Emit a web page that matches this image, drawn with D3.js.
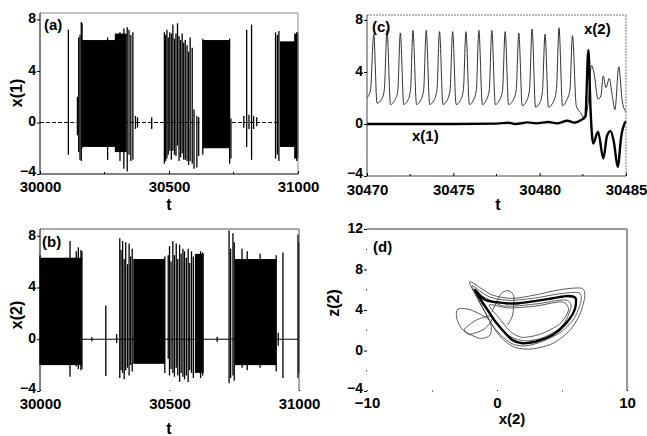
<!DOCTYPE html>
<html>
<head>
<meta charset="utf-8">
<script src="https://cdn.jsdelivr.net/npm/d3@7"></script>
<style>
  body { margin: 0; background: #fff; }
  text { font-family: "Liberation Sans", Arial, sans-serif; font-weight: bold; fill: #000; }
</style>
</head>
<body>
<svg id="chart" width="647" height="436"></svg>
<script>
// ---- data ----
// (a) x(1) vs t : solid bursts [t0, t1, hi, lo] and single spikes [t, hi, lo]
let a_bursts = [
    [30161, 30330, 6.4, -1.9],
    [30290, 30336, 6.9, -2.3],
    [30631, 30734, 6.4, -2.0],
    [30930, 31000, 6.3, -1.9],
    [30985, 31000, 6.9, -2.8]
];
let a_spikes = [
    [30110, 7.2, -2.5], [30145, 2.0, -1.0], [30150, 6.6, -2.3], [30155, 6.8, -2.9],
    [30160, 7.8, -3.0], [30163, 7.7, -2.0], [30262, 6.6, -2.9], [30310, 7.0, -3.0],
    [30325, 7.3, -3.6], [30338, 7.4, -3.8], [30345, 7.2, -2.5], [30352, 6.8, -3.0],
    [30360, 7.0, -2.9], [30370, 0.5, -0.5], [30378, 0.4, -0.4], [30433, 0.4, -0.5],
    [30482, 7.0, -3.2], [30487, 6.8, -3.0], [30492, 7.2, -2.8], [30497, 6.6, -2.5],
    [30503, 7.0, -2.2], [30509, 6.9, -2.9], [30515, 7.6, -2.2], [30521, 6.5, -2.5],
    [30527, 6.9, -2.6], [30533, 7.7, -1.8], [30539, 6.7, -3.0], [30545, 6.4, -2.7],
    [30551, 6.9, -2.4], [30557, 6.2, -2.9], [30563, 6.4, -2.9], [30570, 6.0, -3.0],
    [30576, 5.5, -3.3], [30582, 6.6, -3.0], [30590, 5.8, -3.2], [30597, 1.0, -3.6],
    [30608, 0.5, -3.5], [30615, 0.4, -2.6], [30631, 6.5, -2.5], [30735, 6.5, -3.2],
    [30740, 0.3, -2.8], [30790, 0.5, -0.4], [30801, 7.2, -1.9], [30810, 0.6, -0.5],
    [30820, 7.6, -2.9], [30828, 0.5, -0.5], [30840, 0.4, -0.3], [30913, 7.0, -2.8],
    [30920, 6.8, -2.5], [30926, 7.1, -3.0], [30995, 7.0, -3.0], [30999, 7.0, -2.8]
];

// (b) x(2) vs t
let b_bursts = [
    [30000, 30161, 6.3, -2.0],
    [30360, 30482, 6.2, -1.9],
    [30598, 30632, 6.6, -2.6],
    [30752, 30912, 6.2, -2.0]
];
let b_spikes = [
    [30000, 6.5, -2.0], [30116, 7.6, -2.9], [30140, 6.8, -2.1], [30148, 7.1, -2.3],
    [30158, 6.9, -2.4], [30162, 6.8, -2.3], [30200, 0.15, -0.15], [30254, 2.6, -2.85],
    [30296, 0.4, -0.3], [30308, 7.8, -3.0], [30313, 6.9, -2.4], [30319, 7.6, -2.6],
    [30325, 6.2, -3.1], [30331, 7.5, -2.4], [30338, 5.8, -2.2], [30344, 7.4, -2.8],
    [30350, 6.4, -2.0], [30356, 7.0, -2.5], [30482, 6.4, -2.6], [30495, 6.5, -1.5],
    [30500, 7.2, -2.8], [30506, 6.0, -2.3], [30513, 7.6, -2.6], [30519, 6.5, -2.9],
    [30526, 7.4, -2.2], [30532, 6.2, -2.8], [30539, 7.3, -3.3], [30545, 6.6, -2.6],
    [30552, 7.0, -2.9], [30558, 6.8, -3.1], [30565, 6.3, -2.8], [30572, 7.0, -3.3],
    [30578, 5.9, -2.4], [30585, 6.8, -2.6], [30592, 6.4, -3.0], [30620, 6.8, -3.0],
    [30628, 6.7, -2.8], [30684, 0.2, -0.2], [30730, 8.4, -3.4], [30736, 7.0, -3.0],
    [30745, 8.2, -2.8], [30750, 7.5, -3.2], [30780, 7.0, -2.2], [30800, 6.8, -2.4],
    [30850, 6.6, -2.2], [30912, 6.5, -2.5], [30920, 0.5, -0.5], [30938, 6.7, -3.0],
    [30996, 8.1, -3.0], [30999, 7.5, -2.6]
];

// (c) zoom 30470..30485 : [t, value]
let c_x2 = [
    [30470.0, 2.0], [30470.2, 2.6], [30470.39, 6.9], [30470.58, 1.6], [30470.85, 1.9],
    [30471.0, 2.6], [30471.16, 7.2], [30471.36, 1.5], [30471.6, 1.8], [30471.78, 2.5],
    [30471.93, 7.0], [30472.13, 1.5], [30472.36, 1.8], [30472.52, 2.6], [30472.66, 7.2],
    [30472.87, 1.5], [30473.1, 1.8], [30473.28, 2.6], [30473.43, 7.2], [30473.63, 1.5],
    [30473.87, 1.8], [30474.05, 2.6], [30474.2, 7.1], [30474.4, 1.5], [30474.63, 1.8],
    [30474.81, 2.6], [30474.96, 7.1], [30475.16, 1.5], [30475.4, 1.8], [30475.58, 2.6],
    [30475.73, 7.1], [30475.93, 1.5], [30476.15, 1.8], [30476.33, 2.6], [30476.48, 7.2],
    [30476.68, 1.5], [30476.9, 1.8], [30477.08, 2.6], [30477.23, 7.2], [30477.43, 1.5],
    [30477.66, 1.8], [30477.85, 2.6], [30478.0, 7.1], [30478.2, 1.5], [30478.45, 1.8],
    [30478.64, 2.6], [30478.79, 7.0], [30478.99, 1.4], [30479.22, 1.7], [30479.41, 2.6],
    [30479.56, 7.3], [30479.76, 1.3], [30480.0, 1.6], [30480.16, 2.5], [30480.31, 6.9],
    [30480.51, 1.3], [30480.75, 1.6], [30480.97, 2.6], [30481.12, 7.4], [30481.32, 1.4],
    [30481.55, 1.8], [30481.75, 2.6], [30481.9, 6.8], [30482.12, 1.4], [30482.4, 0.8],
    [30482.6, 0.4], [30482.8, 1.5], [30483.0, 4.5], [30483.15, 3.9], [30483.38, 1.9],
    [30483.55, 2.2], [30483.68, 3.7], [30483.84, 2.8], [30484.03, 3.5], [30484.2, 2.2],
    [30484.36, 1.1], [30484.58, 4.4], [30484.78, 1.8], [30485.0, 0.9]
];
let c_x1 = [
    [30470, 0], [30475, 0], [30477.5, 0.03], [30478.2, 0.1], [30478.6, 0.0],
    [30479.3, 0.12], [30479.8, 0.05], [30480.5, 0.15], [30481.0, 0.05], [30481.6, 0.25],
    [30482.0, 0.1], [30482.4, 0.3], [30482.65, 0.6], [30482.82, 5.7], [30482.95, 1.0],
    [30483.1, -1.5], [30483.38, -0.6], [30483.69, -2.65], [30483.9, -0.9], [30484.11, -0.55],
    [30484.3, -1.4], [30484.52, -3.3], [30484.72, -1.0], [30484.94, 0.1], [30485, 0.2]
];

// (d) phase portrait z(2) vs x(2) : loops [x, z]
let d_outer = [[-2.1,6.8],[-0.4,5.5],[1.2,5.15],[3.0,5.5],[4.8,6.0],[6.5,6.15],[6.75,5.3],[6.35,3.5],[5.6,2.0],[4.3,0.7],[2.7,0.15],[1.4,0.3],[0.5,1.05],[-0.15,2.05],[-0.8,3.5],[-1.45,5.0]];
let d_mid = [[-1.9,6.4],[-0.6,5.3],[1.0,4.95],[3.0,5.2],[4.8,5.6],[6.3,5.7],[6.45,4.8],[5.9,3.1],[4.9,1.8],[3.5,0.9],[2.2,0.45],[1.2,0.65],[0.3,1.5],[-0.4,2.6],[-1.0,4.0],[-1.6,5.5]];
let d_main = [[-1.7,6.0],[-0.9,5.0],[0.65,4.67],[1.7,4.67],[3.0,4.9],[4.3,5.16],[5.45,5.39],[6.05,5.16],[5.97,4.01],[5.32,2.7],[4.3,1.55],[3.0,0.89],[1.95,0.72],[1.17,1.05],[0.52,1.88],[-0.13,2.86],[-0.65,3.85],[-1.17,4.84]];
let d_inner = [[-1.3,5.4],[0.5,4.4],[3.0,4.6],[5.2,5.0],[5.7,4.3],[5.0,2.4],[3.6,1.3],[2.2,0.95],[1.0,1.4],[0.0,2.6],[-0.6,3.9]];
let d_inner2 = [[-0.6,4.5],[0.9,4.2],[3.0,4.4],[5.0,4.8],[5.5,4.0],[4.8,2.6],[3.3,1.6],[1.9,1.3],[1.0,1.9],[0.3,3.0]];
let d_ellA = [[-3.0,4.1],[-2.0,4.0],[-0.6,3.0],[-0.5,1.6],[-1.3,1.2],[-2.6,2.0],[-3.1,3.2]];
let d_ellB = [[-0.6,3.4],[-1.6,3.0],[-2.5,2.1],[-2.1,1.6],[-1.0,2.1],[-0.4,3.0]];
let d_arc = [[-0.4,3.8],[0.3,5.6],[0.9,5.9],[1.3,5.3],[1.2,3.5],[0.8,2.5]];

let t_ticks = [30000, 30500, 31000];
let t_minor = [30250, 30750];
let c_ticks = [30470, 30475, 30480, 30485];
let c_minor = [30472.5, 30477.5, 30482.5];
let v_ticks = [-4, 0, 4, 8];
let d_xticks = [-10, 0, 10];
let d_xminor = [-5, 5];
let d_yticks = [-4, 0, 4, 8, 12];
let d_yminor = [-2, 2, 6, 10];

let svg = d3.select("#chart");
let tickFont = "15px";
let yTickFont = "14px";

function makePanel(p){
    let x = d3.scaleLinear().domain(p.xdom).range([p.left, p.right]);
    let y = d3.scaleLinear().domain(p.ydom).range([p.bottom, p.top]);
    let g = svg.append("g");
    return {g: g, x: x, y: y, p: p};
}

function drawBurstPanel(P, bursts, spikes, dashed){
    let g = P.g, x = P.x, y = P.y;
    g.append("line")
        .attr("x1", x(x.domain()[0])).attr("x2", x(x.domain()[1]))
        .attr("y1", y(0)).attr("y2", y(0))
        .attr("stroke", "#000").attr("stroke-width", 1)
        .attr("stroke-dasharray", dashed ? "4,2" : null);
    g.selectAll(".burst").data(bursts).enter().append("rect")
        .attr("x", d => x(d[0]))
        .attr("width", d => x(d[1]) - x(d[0]))
        .attr("y", d => y(d[2]))
        .attr("height", d => y(d[3]) - y(d[2]))
        .attr("fill", "#000");
    g.selectAll(".spike").data(spikes).enter().append("line")
        .attr("x1", d => x(d[0])).attr("x2", d => x(d[0]))
        .attr("y1", d => y(d[1])).attr("y2", d => y(d[2]))
        .attr("stroke", "#000").attr("stroke-width", 1.3);
}

function leftAxis(P, ticks, minor){
    P.g.append("g")
        .attr("transform", "translate(" + P.p.left + ",0)")
        .call(d3.axisLeft(P.y).tickValues(ticks).tickSize(3).tickPadding(1))
        .call(a => a.select(".domain").remove())
        .call(a => a.selectAll("text").style("font-size", yTickFont)
            .attr("dy", (d, i) => i === 0 ? "0.08em" : "0.25em"));
    if(minor){
        P.g.selectAll(".ymin").data(minor).enter().append("line")
            .attr("x1", P.p.left - 1).attr("x2", P.p.left)
            .attr("y1", d => P.y(d)).attr("y2", d => P.y(d))
            .attr("stroke", "#000");
    }
}

function bottomAxis(P, ticks, minor, pad, inner){
    P.g.append("g")
        .attr("transform", "translate(0," + P.p.bottom + ")")
        .call(d3.axisBottom(P.x).tickValues(ticks).tickFormat(d3.format("d"))
            .tickSizeInner(inner).tickSizeOuter(0).tickPadding(pad))
        .call(a => a.select(".domain").remove())
        .call(a => a.selectAll("text").style("font-size", tickFont));
    P.g.selectAll(".xmin").data(minor).enter().append("line")
        .attr("x1", d => P.x(d)).attr("x2", d => P.x(d))
        .attr("y1", P.p.bottom).attr("y2", P.p.bottom + inner + 1)
        .attr("stroke", "#000");
}

function frame(P, sides, style){
    let p = P.p;
    let seg = {
        top: [p.left, p.top, p.right, p.top],
        bottom: [p.left, p.bottom, p.right, p.bottom],
        left: [p.left, p.top, p.left, p.bottom],
        right: [p.right, p.top, p.right, p.bottom]
    };
    for(let s of sides){
        let st = style[s] || {};
        P.g.append("line")
            .attr("x1", seg[s][0]).attr("y1", seg[s][1])
            .attr("x2", seg[s][2]).attr("y2", seg[s][3])
            .attr("stroke", st.color || "#000")
            .attr("stroke-width", st.width || 1)
            .attr("stroke-dasharray", st.dash || null);
    }
}

function label(txt, x, y, size, rot){
    svg.append("text")
        .attr("x", x).attr("y", y)
        .attr("text-anchor", "middle")
        .attr("transform", rot ? "rotate(-90," + x + "," + y + ")" : null)
        .style("font-size", size + "px")
        .text(txt);
}

// ---- (a) ----
let A = makePanel({left: 40, right: 298, top: 13, bottom: 174, xdom: [30000, 31000], ydom: [-4, 8.5]});
drawBurstPanel(A, a_bursts, a_spikes, true);
frame(A, ["top", "right"], {top: {color: "#888"}, right: {color: "#888"}});
frame(A, ["left", "bottom"], {});
leftAxis(A, v_ticks);
bottomAxis(A, t_ticks, t_minor, 7, -3);
svg.append("text").attr("x", 44).attr("y", 30).style("font-size", "15px").text("(a)");
label("t", 169, 210, 16);
label("x(1)", 22, 93, 16, true);

// ---- (b) ----
let B = makePanel({left: 40, right: 299, top: 229, bottom: 391, xdom: [30000, 31000], ydom: [-4, 8.52]});
drawBurstPanel(B, b_bursts, b_spikes, false);
frame(B, ["top", "right", "left"], {top: {color: "#555"}, right: {color: "#555"}});
leftAxis(B, v_ticks);
bottomAxis(B, t_ticks, t_minor, 7, -1);
svg.append("text").attr("x", 42).attr("y", 247).style("font-size", "15px").text("(b)");
label("t", 169, 434, 16);
label("x(2)", 22, 315, 16, true);

// ---- (c) ----
let C = makePanel({left: 367, right: 626, top: 15, bottom: 176, xdom: [30470, 30485], ydom: [-4, 8.38]});
let lineC = d3.line().x(d => C.x(d[0])).y(d => C.y(d[1])).curve(d3.curveMonotoneX);
C.g.append("path").attr("d", lineC(c_x2))
    .attr("fill", "none").attr("stroke", "#333").attr("stroke-width", 1);
C.g.append("path").attr("d", lineC(c_x1))
    .attr("fill", "none").attr("stroke", "#000").attr("stroke-width", 2.4);
frame(C, ["top", "right"], {top: {color: "#777", dash: "2,1"}, right: {color: "#777", dash: "2,1"}});
frame(C, ["left", "bottom"], {left: {color: "#444"}, bottom: {color: "#444"}});
leftAxis(C, v_ticks);
bottomAxis(C, c_ticks, c_minor, 8, -3);
svg.append("text").attr("x", 372).attr("y", 32).style("font-size", "15px").text("(c)");
svg.append("text").attr("x", 584).attr("y", 34).style("font-size", "15px").text("x(2)");
svg.append("text").attr("x", 412).attr("y", 141).style("font-size", "15px").text("x(1)");
label("t", 498, 210, 16);

// ---- (d) ----
let D = makePanel({left: 367, right: 627, top: 229, bottom: 391, xdom: [-10, 10], ydom: [-4, 12]});
let loopD = d3.line().x(d => D.x(d[0])).y(d => D.y(d[1])).curve(d3.curveCardinalClosed.tension(0.2));
let openD = d3.line().x(d => D.x(d[0])).y(d => D.y(d[1])).curve(d3.curveCardinal.tension(0.2));
let thin = [d_outer, d_mid, d_inner, d_inner2, d_ellA, d_ellB];
D.g.selectAll(".loop").data(thin).enter().append("path")
    .attr("d", d => loopD(d))
    .attr("fill", "none").attr("stroke", "#333").attr("stroke-width", 0.8);
D.g.append("path").attr("d", openD(d_arc))
    .attr("fill", "none").attr("stroke", "#333").attr("stroke-width", 0.8);
D.g.append("path").attr("d", loopD(d_main))
    .attr("fill", "none").attr("stroke", "#000").attr("stroke-width", 2.4);
frame(D, ["top", "right"], {top: {color: "#333"}, right: {color: "#333"}});
leftAxis(D, d_yticks, d_yminor);
D.g.append("g")
    .attr("transform", "translate(0," + D.p.bottom + ")")
    .call(d3.axisBottom(D.x).tickValues(d_xticks).tickSizeInner(-1).tickSizeOuter(0).tickPadding(6))
    .call(a => a.select(".domain").remove())
    .call(a => a.selectAll("text").style("font-size", tickFont));
D.g.selectAll(".xmin").data(d_xminor).enter().append("line")
    .attr("x1", d => D.x(d)).attr("x2", d => D.x(d) + 1)
    .attr("y1", D.p.bottom).attr("y2", D.p.bottom)
    .attr("stroke", "#000");
svg.append("text").attr("x", 373).attr("y", 252).style("font-size", "15px").text("(d)");
label("x(2)", 512, 424, 15);
label("z(2)", 339, 303, 16, true);
</script>
</body>
</html>
